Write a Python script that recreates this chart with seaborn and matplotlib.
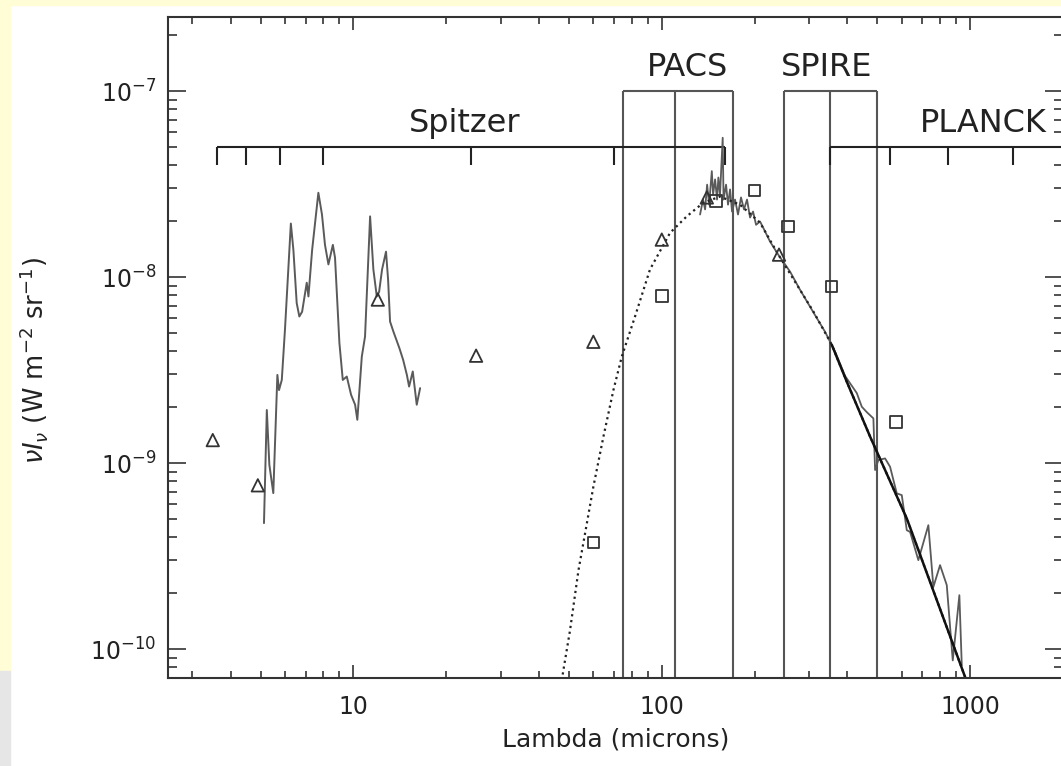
import numpy as np
import matplotlib
matplotlib.use("Agg")
import matplotlib.pyplot as plt
from matplotlib.patches import Rectangle
from matplotlib.ticker import LogLocator, NullFormatter
import seaborn as sns

# --- data (microns, W m^-2 sr^-1) ---
# mid-IR spectrum
irs_wave = [5.13, 5.24, 5.34, 5.50, 5.67, 5.74, 5.86, 6.00, 6.27, 6.39, 6.55, 6.68,
            6.82, 7.06, 7.15, 7.35, 7.70, 7.91, 8.09, 8.30, 8.58, 8.72, 9.01, 9.24,
            9.52, 9.83, 10.13, 10.30, 10.65, 10.91, 11.33, 11.61, 11.91, 12.12, 12.39,
            12.76, 12.96, 13.15, 13.48, 14.10, 14.50, 14.91, 15.16, 15.58, 16.05, 16.46]
irs_flux = [4.76e-10, 1.93e-9, 9.8e-10, 6.9e-10, 2.98e-9, 2.47e-9, 2.80e-9, 5.21e-9,
            1.94e-8, 1.40e-8, 7.25e-9, 6.14e-9, 6.51e-9, 9.33e-9, 7.87e-9, 1.40e-8,
            2.84e-8, 2.17e-8, 1.49e-8, 1.17e-8, 1.49e-8, 1.27e-8, 4.42e-9, 2.80e-9,
            2.92e-9, 2.33e-9, 2.06e-9, 1.71e-9, 3.74e-9, 4.79e-9, 2.12e-8, 1.10e-8,
            7.87e-9, 8.34e-9, 1.10e-8, 1.37e-8, 9.68e-9, 5.77e-9, 5.10e-9, 4.15e-9,
            3.59e-9, 2.98e-9, 2.58e-9, 3.11e-9, 2.06e-9, 2.53e-9]

# far-IR noisy spectrum
fir_wave = [133.1, 136.1, 138.2, 140.3, 142.4, 145.3, 146.7, 148.9, 151.1, 152.6,
            154.5, 157.6, 158.6, 161.6, 164.0, 166.5, 169.0, 172.8, 176.7, 180.7,
            184.8, 189.0, 193.3, 197.7, 202.2, 208.3, 216.2, 224.5, 238.6, 260.6,
            280.7, 309.4, 338.4, 364.8, 393.0, 428.9, 445.2, 462.1, 485.5, 491.7,
            504.0, 529.8, 549.9, 578.1, 600.1, 623.0, 638.5, 679.2, 731.9, 759.8,
            798.7, 839.7, 878.2, 922.6, 939.3]
fir_flux = [2.17e-8, 2.61e-8, 2.31e-8, 3.14e-8, 2.45e-8, 3.71e-8, 2.78e-8, 3.35e-8,
            2.61e-8, 3.43e-8, 2.78e-8, 5.61e-8, 2.61e-8, 3.14e-8, 2.45e-8, 2.96e-8,
            2.25e-8, 2.61e-8, 2.17e-8, 2.68e-8, 2.31e-8, 2.61e-8, 2.09e-8, 2.25e-8,
            1.91e-8, 1.99e-8, 1.76e-8, 1.55e-8, 1.32e-8, 1.07e-8, 8.55e-9, 6.51e-9,
            5.08e-9, 3.97e-9, 2.94e-9, 2.38e-9, 2.01e-9, 1.88e-9, 1.74e-9, 9.18e-10,
            1.04e-9, 1.06e-9, 9.56e-10, 6.88e-10, 6.73e-10, 4.36e-10, 4.27e-10, 3.01e-10,
            4.64e-10, 2.16e-10, 2.83e-10, 2.21e-10, 8.7e-11, 1.95e-10, 8.18e-11]

# dotted dust model
model_wave = [47.4, 47.96, 50.4, 53.7, 56.4, 60.0, 64.7, 69.7, 74.2, 81.9, 91.6, 106.4,
              120.5, 136.4, 154.5, 179.4, 208.3, 238.8, 310.0, 355.8, 398.0, 473.6,
              623.0, 769.0, 963.0]
model_flux = [6.8e-11, 7.69e-11, 1.26e-10, 2.66e-10, 4.19e-10, 7.46e-10, 1.39e-9, 2.47e-9,
              3.74e-9, 6.14e-9, 1.10e-8, 1.73e-8, 2.12e-8, 2.51e-8, 2.71e-8, 2.45e-8,
              1.96e-8, 1.32e-8, 6.54e-9, 4.33e-9, 2.74e-9, 1.39e-9, 5.04e-10, 1.95e-10,
              7.08e-11]

# solid long-wavelength fit
fit_wave = [355.8, 398.0, 473.6, 623.0, 769.0, 963.0]
fit_flux = [4.33e-9, 2.74e-9, 1.39e-9, 5.04e-10, 1.95e-10, 7.08e-11]

# photometry
tri_wave = [3.5, 4.9, 12, 25, 60, 100, 140, 240]
tri_flux = [1.33e-9, 7.6e-10, 7.57e-9, 3.78e-9, 4.49e-9, 1.59e-8, 2.68e-8, 1.32e-8]
sq_wave = [60, 100, 150, 200, 257, 355, 575]
sq_flux = [3.75e-10, 7.94e-9, 2.56e-8, 2.92e-8, 1.87e-8, 8.9e-9, 1.66e-9]

# instrument bands
pacs_edges = [75, 110, 170]
spire_edges = [250, 350, 500]
box_top = 1e-7
spitzer_bands = [3.6, 4.5, 5.8, 8.0, 24, 70, 160]
planck_bands = [350, 550, 850, 1380]
bracket_level = 5e-8
bracket_tick = 4e-8

x_ticks = [10, 100, 1000]
x_ticklabels = ["10", "100", "1000"]
y_ticks = [1e-10, 1e-9, 1e-8, 1e-7]
x_lim = (2.5, 2000)
y_lim = (7e-11, 2.5e-7)

sns.set_style("ticks")
plt.rcParams["font.family"] = ["DejaVu Sans"]
plt.rcParams["mathtext.fontset"] = "dejavusans"

fig = plt.figure(figsize=(10.61, 7.66), dpi=100)
fig.patch.set_facecolor("white")
# page background strips around the plot
fig.add_artist(Rectangle((0, 761 / 766), 1, 5 / 766, transform=fig.transFigure,
                         color="#FFFDD6", zorder=0))
fig.add_artist(Rectangle((0, 95 / 766), 10 / 1061, 671 / 766, transform=fig.transFigure,
                         color="#FFFDD6", zorder=0))
fig.add_artist(Rectangle((0, 0), 10 / 1061, 95 / 766, transform=fig.transFigure,
                         color="#E6E6E6", zorder=0))

ax = fig.add_axes([167.7 / 1061, 88 / 766, 895.3 / 1061, 661 / 766])
ax.set_xscale("log")
ax.set_yscale("log")

line_grey = "#5a5a5a"
ink = "#222222"

# instrument boxes and brackets
for edges in (pacs_edges, spire_edges):
    ax.vlines(edges, y_lim[0] * 0.5, box_top, color="#555555", lw=1.5)
    ax.hlines(box_top, edges[0], edges[-1], color="#555555", lw=1.5)
ax.hlines(bracket_level, spitzer_bands[0], spitzer_bands[-1], color=ink, lw=1.5)
ax.vlines(spitzer_bands, bracket_tick, bracket_level, color=ink, lw=1.5)
ax.hlines(bracket_level, planck_bands[0], x_lim[1] * 2, color=ink, lw=1.5)
ax.vlines(planck_bands, bracket_tick, bracket_level, color=ink, lw=1.5)

# spectra and model
sns.lineplot(x=irs_wave, y=irs_flux, sort=False, estimator=None, color=line_grey,
             lw=1.4, ax=ax)
sns.lineplot(x=fir_wave, y=fir_flux, sort=False, estimator=None, color=line_grey,
             lw=1.3, ax=ax)
sns.lineplot(x=model_wave, y=model_flux, sort=False, estimator=None, color=ink,
             lw=1.6, linestyle=":", ax=ax)
sns.lineplot(x=fit_wave, y=fit_flux, sort=False, estimator=None, color="#111111",
             lw=1.8, ax=ax)

sns.scatterplot(x=tri_wave, y=tri_flux, marker="^", s=80, facecolor="none",
                edgecolor="#333333", linewidth=1.3, ax=ax, zorder=5)
sns.scatterplot(x=sq_wave, y=sq_flux, marker="s", s=70, facecolor="none",
                edgecolor="#333333", linewidth=1.3, ax=ax, zorder=5)

# instrument names
txt = dict(fontsize=23, color=ink, ha="center", va="baseline")
ax.text(121, 1.2e-7, "PACS", **txt)
ax.text(343, 1.2e-7, "SPIRE", **txt)
ax.text(23, 6.0e-8, "Spitzer", **txt)
ax.text(1101, 6.0e-8, "PLANCK", **txt)

ax.set_xlim(*x_lim)
ax.set_ylim(*y_lim)
ax.set_xticks(x_ticks)
ax.set_xticklabels(x_ticklabels)
ax.xaxis.set_minor_locator(LogLocator(base=10, subs=np.arange(2, 10), numticks=20))
ax.xaxis.set_minor_formatter(NullFormatter())
ax.set_yticks(y_ticks)
ax.yaxis.set_minor_locator(LogLocator(base=10, subs=np.arange(2, 10), numticks=20))
ax.yaxis.set_minor_formatter(NullFormatter())

ax.tick_params(which="both", direction="in", top=True, right=True, color="#333333",
               width=1.2, labelcolor=ink, labelsize=17)
ax.tick_params(axis="x", which="major", length=9.4, pad=12)
ax.tick_params(axis="x", which="minor", length=5)
ax.tick_params(axis="y", which="major", length=13, pad=8)
ax.tick_params(axis="y", which="minor", length=6.5)
for sp in ax.spines.values():
    sp.set_color("#333333")
    sp.set_linewidth(1.5)

ax.set_xlabel("Lambda (microns)", fontsize=18, color=ink)
ax.xaxis.set_label_coords(0.5, -0.075)
ax.set_ylabel(r"$\nu I_\nu$ (W m$^{-2}$ sr$^{-1}$)", fontsize=18.5, color=ink)
ax.yaxis.set_label_coords(-0.131, 0.48)

fig.savefig("out.png", dpi=100)
